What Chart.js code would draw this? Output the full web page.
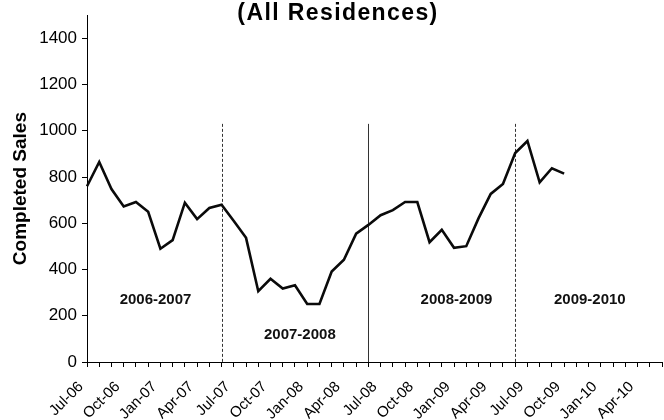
<!DOCTYPE html>
<html>
<head>
<meta charset="utf-8">
<script src="https://cdn.jsdelivr.net/npm/chart.js@4.4.0/dist/chart.umd.min.js"></script>
<style>
    html, body { margin: 0; padding: 0; background: #fff; }
    #wrap { width: 664px; height: 420px; }
</style>
</head>
<body>
<div id="wrap"><canvas id="chart"></canvas></div>
<script>
const months = [
    'Jul-06', 'Aug-06', 'Sep-06', 'Oct-06', 'Nov-06', 'Dec-06', 'Jan-07', 'Feb-07', 'Mar-07', 'Apr-07', 'May-07', 'Jun-07',
    'Jul-07', 'Aug-07', 'Sep-07', 'Oct-07', 'Nov-07', 'Dec-07', 'Jan-08', 'Feb-08', 'Mar-08', 'Apr-08', 'May-08', 'Jun-08',
    'Jul-08', 'Aug-08', 'Sep-08', 'Oct-08', 'Nov-08', 'Dec-08', 'Jan-09', 'Feb-09', 'Mar-09', 'Apr-09', 'May-09', 'Jun-09',
    'Jul-09', 'Aug-09', 'Sep-09', 'Oct-09', 'Nov-09', 'Dec-09', 'Jan-10', 'Feb-10', 'Mar-10', 'Apr-10', 'May-10', 'Jun-10'
];
const sales = [
    760, 865, 748, 673, 692, 650, 490, 527, 689, 618, 666, 680,
    610, 537, 306, 360, 318, 332, 251, 251, 391, 442, 555, 593,
    635, 657, 692, 692, 518, 572, 494, 501, 621, 727, 770, 904,
    956, 777, 838, 815
];
const yTicks = [0, 200, 400, 600, 800, 1000, 1200, 1400];

// fiscal year boundaries (end of June) and how high the marker goes
const dividerMonths = ['Jun-07', 'Jun-08', 'Jun-09'];
const dividerTop = 1030;

// period captions: text, position along month axis, height in sales units
const periodNames = ['2006-2007', '2007-2008', '2008-2009', '2009-2010'];
const periodAt = [5.6, 17.4, 30.2, 41.1];
const periodHeight = [267, 117, 267, 267];

const FONT = "'Liberation Sans', Arial, sans-serif";

const extras = {
    id: 'extras',
    beforeDatasetsDraw(chart) {
        const ctx = chart.ctx;
        const x = chart.scales.x;
        const y = chart.scales.y;
        ctx.save();
        dividerMonths.forEach((m, i) => {
            const px = Math.round(x.getPixelForValue(months.indexOf(m))) + 0.5;
            ctx.beginPath();
            ctx.strokeStyle = '#333';
            ctx.lineWidth = 1;
            ctx.setLineDash(i === 1 ? [] : [3, 2]);
            ctx.moveTo(px, y.getPixelForValue(dividerTop));
            ctx.lineTo(px, y.getPixelForValue(0));
            ctx.stroke();
        });
        ctx.setLineDash([]);
        ctx.fillStyle = '#111';
        ctx.font = `bold 15px ${FONT}`;
        ctx.textAlign = 'center';
        ctx.textBaseline = 'middle';
        periodNames.forEach((t, i) => {
            ctx.fillText(t, x.getPixelForValue(periodAt[i]), y.getPixelForValue(periodHeight[i]));
        });
        ctx.restore();
    },
    afterDraw(chart) {
        const ctx = chart.ctx;
        ctx.save();
        ctx.fillStyle = '#000';
        ctx.font = `bold 23px ${FONT}`;
        ctx.letterSpacing = '1.4px';
        ctx.textAlign = 'center';
        ctx.textBaseline = 'alphabetic';
        ctx.fillText('(All Residences)', 338, 20);
        ctx.restore();
    }
};

const config = {
    type: 'line',
    data: {
        labels: months,
        datasets: [{
            label: 'Completed Sales',
            data: sales,
            borderColor: '#0a0a0a',
            borderWidth: 2.6,
            pointRadius: 0,
            tension: 0,
            fill: false,
        }]
    },
    options: {
        responsive: false,
        animation: false,
        devicePixelRatio: 1,
        layout: { padding: { top: 7, right: 2, left: 0, bottom: 0 } },
        plugins: {
            legend: { display: false },
            tooltip: { enabled: false },
            title: { display: false },
        },
        scales: {
            x: {
                offset: false,
                afterFit: (s) => { s.height = 58; s.paddingLeft = 0; s.paddingRight = 0; },
                border: { display: true, color: '#000', width: 1 },
                grid: { display: true, drawOnChartArea: false, drawTicks: true, tickLength: 5, color: '#000' },
                ticks: {
                    autoSkip: false,
                    maxRotation: 45,
                    minRotation: 45,
                    padding: 11,
                    labelOffset: -6,
                    color: '#000',
                    font: { family: FONT, size: 15 },
                    callback: (v, i) => (i % 3 === 0 ? months[i] : ''),
                },
            },
            y: {
                min: 0,
                max: 1500,
                afterFit: (s) => { s.width = 87; },
                afterBuildTicks: (s) => { s.ticks = yTicks.map(v => ({ value: v })); },
                border: { display: true, color: '#000', width: 1 },
                grid: { display: true, drawOnChartArea: false, drawTicks: true, tickLength: 5, color: '#000' },
                ticks: {
                    padding: 5,
                    color: '#000',
                    font: { family: FONT, size: 17 },
                    callback: (v) => String(v),
                },
                title: {
                    display: true,
                    text: 'Completed Sales',
                    color: '#000',
                    font: { family: FONT, size: 19, weight: 'bold' },
                    padding: { top: 9, bottom: 0 },
                },
            },
        },
    },
    plugins: [extras],
};

window.addEventListener('DOMContentLoaded', () => {
    const canvas = document.getElementById('chart');
    canvas.width = 664;
    canvas.height = 420;
    new Chart(canvas, config);
});
</script>
</body>
</html>
